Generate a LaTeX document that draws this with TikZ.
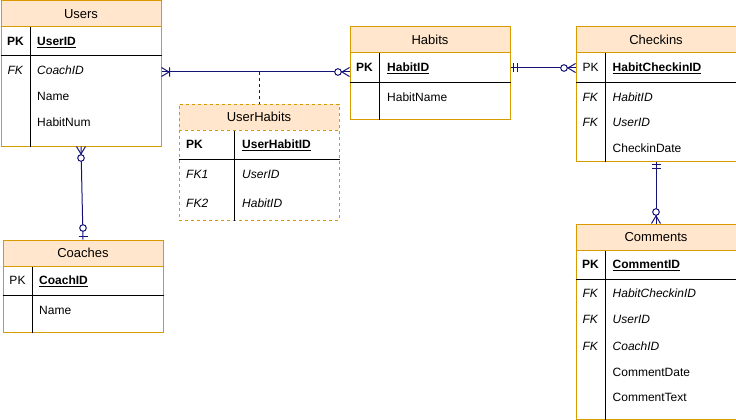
\documentclass[tikz,border=0pt]{standalone}
\usepackage{fontspec}
\setmainfont{Liberation Sans}
\usepackage{tikz}
\usetikzlibrary{positioning}
\definecolor{tblborder}{RGB}{215,155,0}
\definecolor{tblhead}{RGB}{255,230,204}
\definecolor{relnavy}{RGB}{20,20,120}

\begin{document}
\begin{tikzpicture}[
    x=1pt, y=-1pt,
    tbl/.style={rectangle, draw=tblborder, line width=1pt, fill=white, minimum width=160pt, inner sep=0pt, anchor=north west},
    head/.style={rectangle, draw=tblborder, line width=1pt, fill=tblhead, minimum width=160pt, minimum height=26pt, inner sep=0pt, anchor=north west, font=\fontsize{13}{15}\selectfont},
    key/.style={inner sep=0pt, text height=8.6pt, text depth=0pt, font=\fontsize{12}{14}\selectfont},
    field/.style={key, anchor=west},
    sep/.style={line width=1pt},
    rel/.style={draw=relnavy, line width=1pt},
    onemany/.pic={\draw[rel] (0,-4.5) -- (7.5,0) -- (0,4.5) (8,-4.5) -- (8,4.5);},
    zeromany/.pic={\draw[rel] (0,-4.5) -- (7.5,0) -- (0,4.5); \draw[rel, fill=white] (11.5,0) circle[radius=3.3pt];},
    onlyone/.pic={\draw[rel] (3,-4.5) -- (3,4.5) (7,-4.5) -- (7,4.5);},
    zeroone/.pic={\draw[rel] (3,-4.5) -- (3,4.5); \draw[rel, fill=white] (11.5,0) circle[radius=3.3pt];}
]
\useasboundingbox (0,0) rectangle (736,420);

% Users
\node[tbl, minimum height=145pt] (users) at (0.5,0.5) {};
\node[head] (usersHead) at (users.north west) {Users};
\draw[sep] (users.west |- 0,56) -- (users.east |- 0,56);
\draw[sep] (usersHead.south -| 30.5,0) -- (users.south -| 30.5,0);
\node[key] (usersK1) at (15.5,41) {\textbf{PK}};
\node[field] (usersF1) at (37,41) {\textbf{\underline{UserID}}};
\node[key] (usersK2) at (15.5,70.5) {\textit{FK}};
\node[field] (usersF2) at (37,70.5) {\textit{CoachID}};
\node[field] (usersF3) at (37,96.5) {Name};
\node[field] (usersF4) at (37,122.5) {HabitNum};

% Coaches
\node[tbl, minimum height=92pt] (coaches) at (2.5,239.5) {};
\node[head] (coachesHead) at (coaches.north west) {Coaches};
\draw[sep] (coaches.west |- 0,295) -- (coaches.east |- 0,295);
\draw[sep] (coachesHead.south -| 32.5,0) -- (coaches.south -| 32.5,0);
\node[key] (coachesK1) at (17.5,280) {PK};
\node[field] (coachesF1) at (39,280) {\textbf{\underline{CoachID}}};
\node[field] (coachesF2) at (39,310) {Name};

% UserHabits
\node[tbl, dash pattern=on 3pt off 3pt, minimum height=116pt] (userhabits) at (178.5,103.5) {};
\node[head, dash pattern=on 3pt off 3pt] (userhabitsHead) at (userhabits.north west) {UserHabits};
\draw[sep] (userhabits.west |- 0,159) -- (userhabits.east |- 0,159);
\draw[sep] (userhabitsHead.south -| 234.5,0) -- (userhabits.south -| 234.5,0);
\node[field] (userhabitsK1) at (186,144) {\textbf{PK}};
\node[field] (userhabitsF1) at (242,144) {\textbf{\underline{UserHabitID}}};
\node[field] (userhabitsK2) at (186,174) {\textit{FK1}};
\node[field] (userhabitsF2) at (242,174) {\textit{UserID}};
\node[field] (userhabitsK3) at (186,203) {\textit{FK2}};
\node[field] (userhabitsF3) at (242,203) {\textit{HabitID}};

% Habits
\node[tbl, minimum height=92pt] (habits) at (349.5,26.5) {};
\node[head] (habitsHead) at (habits.north west) {Habits};
\draw[sep] (habits.west |- 0,82) -- (habits.east |- 0,82);
\draw[sep] (habitsHead.south -| 379.5,0) -- (habits.south -| 379.5,0);
\node[key] (habitsK1) at (364.5,67.5) {\textbf{PK}};
\node[field] (habitsF1) at (387,67.5) {\textbf{\underline{HabitID}}};
\node[field] (habitsF2) at (387,97) {HabitName};

% Checkins
\node[tbl, minimum height=134pt] (checkins) at (575.5,26.5) {};
\node[head] (checkinsHead) at (checkins.north west) {Checkins};
\draw[sep] (checkins.west |- 0,82) -- (checkins.east |- 0,82);
\draw[sep] (checkinsHead.south -| 605.5,0) -- (checkins.south -| 605.5,0);
\node[key] (checkinsK1) at (590.5,67.5) {PK};
\node[field] (checkinsF1) at (612.5,67.5) {\textbf{\underline{HabitCheckinID}}};
\node[key] (checkinsK2) at (590.5,97) {\textit{FK}};
\node[field] (checkinsF2) at (612.5,97) {\textit{HabitID}};
\node[key] (checkinsK3) at (590.5,122) {\textit{FK}};
\node[field] (checkinsF3) at (612.5,122) {\textit{UserID}};
\node[field] (checkinsF4) at (612.5,148) {CheckinDate};

% Comments
\node[tbl, minimum height=195pt] (comments) at (575.5,223.5) {};
\node[head] (commentsHead) at (comments.north west) {Comments};
\draw[sep] (comments.west |- 0,279) -- (comments.east |- 0,279);
\draw[sep] (commentsHead.south -| 605.5,0) -- (comments.south -| 605.5,0);
\node[key] (commentsK1) at (590.5,264) {\textbf{PK}};
\node[field] (commentsF1) at (612.5,264) {\textbf{\underline{CommentID}}};
\node[key] (commentsK2) at (590.5,293) {\textit{FK}};
\node[field] (commentsF2) at (612.5,293) {\textit{HabitCheckinID}};
\node[key] (commentsK3) at (590.5,319) {\textit{FK}};
\node[field] (commentsF3) at (612.5,319) {\textit{UserID}};
\node[key] (commentsK4) at (590.5,346) {\textit{FK}};
\node[field] (commentsF4) at (612.5,346) {\textit{CoachID}};
\node[field] (commentsF5) at (612.5,372) {CommentDate};
\node[field] (commentsF6) at (612.5,397.5) {CommentText};

% relations
\coordinate (uhMid) at (userhabits.north |- 0,72);
\draw[rel] (users.east |- 0,72) -- (habits.west |- 0,72);
\draw[rel, dash pattern=on 3pt off 3pt] (uhMid) -- (userhabits.north);
\draw[rel] (users.south) -- (coaches.north);
\draw[rel] (habits.east |- 0,68) -- (checkins.west |- 0,68);
\draw[rel] (checkins.south) -- (comments.north);

\pic at (users.east |- 0,72) {onemany};
\pic[rotate=180] at (habits.west |- 0,72) {zeromany};
\pic[rotate=-90] at (users.south) {zeromany};
\pic[rotate=90] at (coaches.north) {zeroone};
\pic at (habits.east |- 0,68) {onlyone};
\pic[rotate=180] at (checkins.west |- 0,68) {zeromany};
\pic[rotate=-90] at (checkins.south) {onlyone};
\pic[rotate=90] at (comments.north) {zeromany};
\end{tikzpicture}
\end{document}
